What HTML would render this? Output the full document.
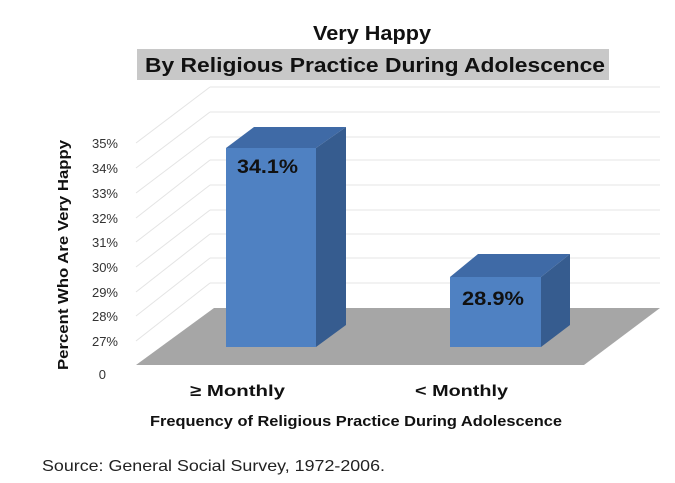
<!DOCTYPE html><html><head><style>body{margin:0;background:#fff}svg{display:block}text{font-family:"Liberation Sans",sans-serif}</style></head><body>
<svg width="675" height="483" viewBox="0 0 675 483">
<text x="372" y="40" font-size="20" font-weight="bold" text-anchor="middle" fill="#111" textLength="118" lengthAdjust="spacingAndGlyphs">Very Happy</text>
<rect x="137" y="49" width="472" height="31" fill="#c8c8c8"/>
<text x="145" y="72" font-size="20" font-weight="bold" fill="#111" textLength="460" lengthAdjust="spacingAndGlyphs">By Religious Practice During Adolescence</text>
<g stroke="#e4e4e4" stroke-width="1" fill="none">
<line x1="210" y1="87" x2="660" y2="87"/><line x1="210" y1="112" x2="660" y2="112"/><line x1="210" y1="137" x2="660" y2="137"/><line x1="210" y1="160" x2="660" y2="160"/><line x1="210" y1="185" x2="660" y2="185"/><line x1="210" y1="210" x2="660" y2="210"/><line x1="210" y1="234" x2="660" y2="234"/><line x1="210" y1="258" x2="660" y2="258"/><line x1="210" y1="283" x2="660" y2="283"/>
<line x1="210" y1="87" x2="136" y2="143"/><line x1="210" y1="112" x2="136" y2="168"/><line x1="210" y1="137" x2="136" y2="193"/><line x1="210" y1="160" x2="136" y2="218"/><line x1="210" y1="185" x2="136" y2="242"/><line x1="210" y1="210" x2="136" y2="267"/><line x1="210" y1="234" x2="136" y2="292"/><line x1="210" y1="258" x2="136" y2="316"/><line x1="210" y1="283" x2="136" y2="341"/>
</g>
<polygon points="136,365 584,365 660,308 214,308" fill="#a6a6a6"/>
<polygon points="226,148 254,127 346,127 316,148" fill="#3f6aa6"/>
<polygon points="316,148 346,127 346,325 316,347" fill="#365c8f"/>
<rect x="226" y="148" width="90" height="199" fill="#4f81c2"/>
<polygon points="450,277 478,254 570,254 541,277" fill="#3f6aa6"/>
<polygon points="541,277 570,254 570,325 541,347" fill="#365c8f"/>
<rect x="450" y="277" width="91" height="70" fill="#4f81c2"/>
<text x="237" y="173" font-size="19" font-weight="bold" fill="#111" textLength="61" lengthAdjust="spacingAndGlyphs">34.1%</text>
<text x="462" y="305" font-size="19" font-weight="bold" fill="#111" textLength="62" lengthAdjust="spacingAndGlyphs">28.9%</text>
<g font-size="13" fill="#333" text-anchor="end">
<text x="118" y="148">35%</text><text x="118" y="173">34%</text><text x="118" y="198">33%</text><text x="118" y="223">32%</text><text x="118" y="247">31%</text><text x="118" y="272">30%</text><text x="118" y="297">29%</text><text x="118" y="321">28%</text><text x="118" y="346">27%</text><text x="106" y="379">0</text>
</g>
<text transform="translate(68,255) rotate(-90)" font-size="15" font-weight="bold" text-anchor="middle" fill="#111" textLength="230" lengthAdjust="spacingAndGlyphs">Percent Who Are Very Happy</text>
<text x="190" y="396" font-size="16" font-weight="bold" fill="#111" textLength="95" lengthAdjust="spacingAndGlyphs">≥ Monthly</text>
<text x="415" y="396" font-size="16" font-weight="bold" fill="#111" textLength="93" lengthAdjust="spacingAndGlyphs">&lt; Monthly</text>
<text x="150" y="426" font-size="15" font-weight="bold" fill="#111" textLength="412" lengthAdjust="spacingAndGlyphs">Frequency of Religious Practice During Adolescence</text>
<text x="42" y="471" font-size="16" fill="#222" textLength="343" lengthAdjust="spacingAndGlyphs">Source:  General Social Survey, 1972-2006.</text>
</svg></body></html>
